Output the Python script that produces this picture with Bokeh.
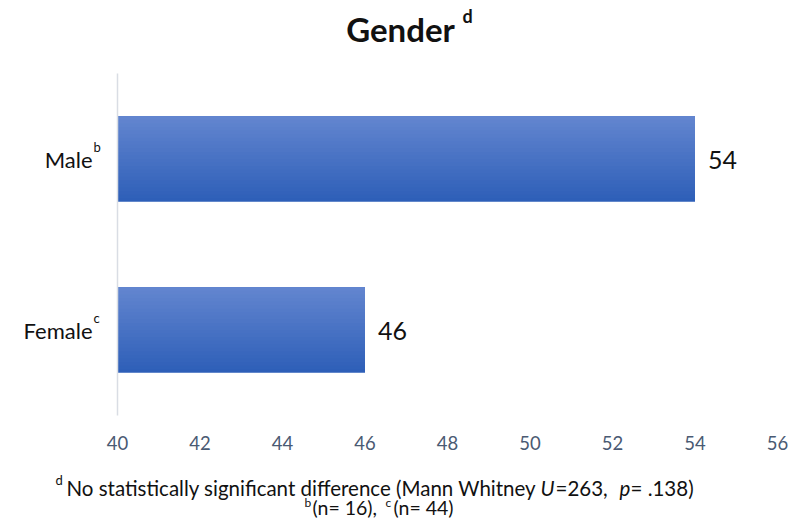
from bokeh.plotting import figure
from bokeh.models import Range1d, Label, ColumnDataSource
from bokeh.core.properties import value
from bokeh.embed import file_html
from bokeh.resources import INLINE

categories = ["Female", "Male"]
sup_marks = ["c", "b"]
values = [46, 54]
x_ticks = [40, 42, 44, 46, 48, 50, 52, 54, 56]
x_min, x_max = 40, 56

FONT = "Lato"
W, H = 809, 523
PL, PT, PR, PB = 117, 73, 777, 415  # plotting region edges (canvas px)

# ranges extended so the frame fills the canvas while x_min..x_max map to PL..PR
ppx = (PR - PL) / (x_max - x_min)
ncat = len(categories)
ppy = (PB - PT) / ncat
xr = Range1d(x_min - PL / ppx, x_max + (W - PR) / ppx)
yr = Range1d(-(H - PB) / ppy, ncat + PT / ppy)

p = figure(width=W, height=H, output_backend="svg", toolbar_location=None,
           x_range=xr, y_range=yr, min_border=0)
p.outline_line_color = None
p.xgrid.grid_line_color = None
p.ygrid.grid_line_color = None
p.background_fill_color = "white"
p.border_fill_color = "white"

ypos = [i + 0.5 for i in range(ncat)]
src = ColumnDataSource(dict(cat=categories, y=ypos, val=values, sup=sup_marks,
                            lab=[str(v) for v in values]))

# stepped vertical gradient (dark bottom -> light top)
N = 24
top = (98, 133, 207)
bot = (46, 95, 184)
BAR_H = 0.5
for k in range(N):
    h = BAR_H * (1 - k / N)
    off = (BAR_H - h) / 2
    t = k / (N - 1)
    c = tuple(int(round(bot[i] + (top[i] - bot[i]) * t)) for i in range(3))
    col = "#%02x%02x%02x" % c
    p.hbar(y=[yy + off for yy in ypos], right=values, left=x_min, height=h,
           fill_color=col, line_color=None)

# axes placed at fixed data locations
p.xaxis.fixed_location = 0
p.xaxis.bounds = (x_min, x_max)
p.xaxis.ticker = x_ticks
p.xaxis.axis_line_color = None
p.xaxis.major_tick_line_color = None
p.xaxis.minor_tick_line_color = None
p.xaxis.major_label_text_font = FONT
p.xaxis.major_label_text_font_size = "18.5px"
p.xaxis.major_label_text_color = "#4a5a73"
p.xaxis.major_label_standoff = 14

p.yaxis.fixed_location = x_min
p.yaxis.bounds = (0, ncat)
p.yaxis.ticker = []
p.yaxis.axis_line_color = "#d9dde4"
p.yaxis.axis_line_width = 1.5
p.yaxis.major_tick_line_color = None
p.yaxis.minor_tick_line_color = None
p.yaxis.major_label_text_color = None

# category labels with superscripts
p.text(x=x_min, y="y", text="cat", source=src, x_offset=-25, y_offset=0,
       text_align="right", text_baseline="middle",
       text_font=value(FONT), text_font_size="22px", text_color="#111111")
p.text(x=x_min, y="y", text="sup", source=src, x_offset=-24, y_offset=-4,
       text_align="left", text_baseline="bottom",
       text_font=value(FONT), text_font_size="13px", text_color="#111111")

# value labels
p.text(x="val", y="y", text="lab", source=src, x_offset=13, y_offset=1,
       text_align="left", text_baseline="middle",
       text_font=value(FONT), text_font_size="25px", text_color="#111111")

def lab(x, y, t, size="20px", style="normal", align="left"):
    p.add_layout(Label(x=x, y=H - y, x_units="screen", y_units="screen", text=t,
                       text_font=FONT, text_font_size=size, text_font_style=style,
                       text_align=align, text_baseline="alphabetic", text_color="#111111"))

# title
lab(400, 28, "Gender", size="33px", style="bold", align="center")
lab(462, 15, "d", size="18px", style="bold")

# footnotes
lab(55, 479, "d", size="13px")
lab(66, 487, "No statistically significant difference (Mann Whitney", size="20.5px")
lab(540, 487, "U", style="italic", size="20.5px")
lab(555, 487, "=263,", size="20.5px")
lab(619, 487, "p", style="italic", size="20.5px")
lab(630, 487, "= .138)", size="20.5px")
lab(304, 502, "b", size="12px")
lab(312, 507, "(n= 16),", size="19.5px")
lab(385, 502, "c", size="12px")
lab(393, 507, "(n= 44)", size="19.5px")

open("out.html", "w").write(file_html(p, INLINE))
